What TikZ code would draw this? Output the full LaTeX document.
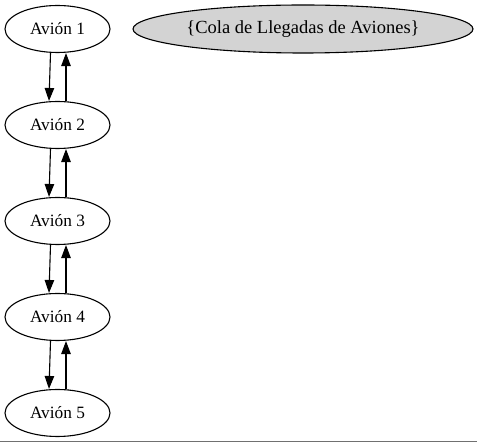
\documentclass[tikz,border=0pt]{standalone}
\usepackage{fontspec}
\setmainfont{Liberation Serif}
\usepackage{tikz}
\usetikzlibrary{shapes, arrows.meta, positioning, calc}
\definecolor{colagray}{RGB}{211, 211, 211}
\definecolor{rulegray}{RGB}{112, 112, 112}

\tikzset{
  avion/.style={draw, ellipse, line width=1.1pt, minimum width=105pt, minimum height=47pt, inner sep=0pt, font=\fontsize{17.3}{20}\selectfont},
  cola/.style={avion, fill=colagray, minimum width=340pt, minimum height=48pt, font=\fontsize{18.5}{21}\selectfont},
  flecha/.style={line width=1.1pt, -{Triangle[length=13pt, width=9.5pt]}}
}

\begin{document}
\begin{tikzpicture}[x=1pt, y=-1pt]
  \useasboundingbox (0,0) rectangle (477,443);

  % nodos de la cola
  \foreach \i/\y in {1/29, 2/125, 3/221, 4/317, 5/413} {
    \node[avion] (a\i) at (57.5,\y) {Avión \i};
  }
  \node[cola] (cola) at (303,29) {\{Cola de Llegadas de Aviones\}};

  % enlaces dobles
  \foreach \i [evaluate=\i as \j using int(\i+1)] in {1,...,4} {
    \draw[flecha] ([xshift=-7pt]a\i.south) -- ([xshift=-8.5pt]a\j.north);
    \draw[flecha] ([xshift=8.5pt]a\j.north) -- ([xshift=8.5pt]a\i.south);
  }

  \draw[rulegray, line width=1.2pt] (0,441.6) -- (477,441.6);
\end{tikzpicture}
\end{document}
